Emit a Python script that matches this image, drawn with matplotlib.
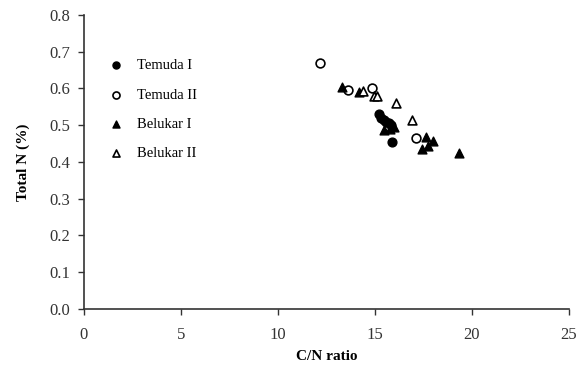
import matplotlib
matplotlib.use("Agg")
import matplotlib.pyplot as plt

plt.rcParams['font.family'] = ['Liberation Serif', 'DejaVu Serif']

# Temuda I (filled circles)
t1_x = [15.2, 15.3, 15.45, 15.6, 15.75, 15.85, 15.9]
t1_y = [0.53, 0.52, 0.515, 0.51, 0.505, 0.50, 0.453]
# Temuda II (open circles)
t2_x = [12.2, 13.6, 14.85, 17.1]
t2_y = [0.67, 0.595, 0.602, 0.464]
# Belukar I (filled triangles)
b1_x = [13.3, 14.2, 15.5, 15.8, 16.0, 17.65, 18.0, 17.75, 17.45, 19.35]
b1_y = [0.605, 0.591, 0.487, 0.49, 0.494, 0.469, 0.458, 0.444, 0.435, 0.425]
# Belukar II (open triangles)
b2_x = [14.4, 14.95, 15.1, 16.1, 16.9]
b2_y = [0.594, 0.58, 0.58, 0.56, 0.514]

fig = plt.figure(figsize=(5.78, 3.66), dpi=100)
ax = fig.add_axes([0.145, 0.156, 0.839, 0.803])

ms = 40
ax.scatter(t1_x, t1_y, s=ms, marker='o', c='black', label='Temuda I', zorder=3)
ax.scatter(t2_x, t2_y, s=ms, marker='o', facecolors='white', edgecolors='black',
           linewidths=1.2, label='Temuda II', zorder=3)
ax.scatter(b1_x, b1_y, s=ms, marker='^', c='black', label='Belukar I', zorder=3)
ax.scatter(b2_x, b2_y, s=ms, marker='^', facecolors='white', edgecolors='black',
           linewidths=1.2, label='Belukar II', zorder=3)

ax.set_xlim(0, 25)
ax.set_ylim(0, 0.8)
ax.set_xticks([0, 5, 10, 15, 20, 25])
ax.set_yticks([i / 10 for i in range(9)])
ax.set_yticklabels([f'{i / 10:.1f}' for i in range(9)])
ax.tick_params(direction='out', length=4, labelsize=12, width=1, colors='#333333')
ax.tick_params(axis='x', pad=9)
ax.tick_params(axis='y', pad=6)
ax.spines['top'].set_visible(False)
ax.spines['right'].set_visible(False)
for s in ('left', 'bottom'):
    ax.spines[s].set_linewidth(1.2)
    ax.spines[s].set_color('#333333')

ax.set_xlabel('C/N ratio', fontsize=11, fontweight='bold', labelpad=5)
ax.set_ylabel('Total N (%)', fontsize=11, fontweight='bold', labelpad=14)

ax.legend(loc='upper left', bbox_to_anchor=(0.052, 0.85), frameon=False,
          fontsize=10.5, labelspacing=1.1, handlelength=1.0, handletextpad=0.9,
          borderpad=0, borderaxespad=0, scatterpoints=1, markerscale=0.8)

fig.savefig('out.png', dpi=100)
